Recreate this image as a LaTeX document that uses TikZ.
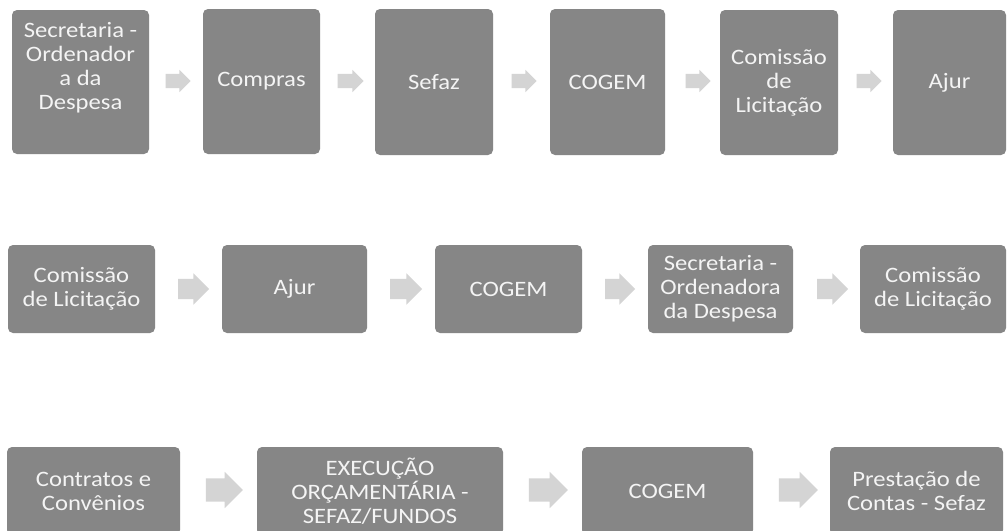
\documentclass[tikz,border=0pt]{standalone}
\usepackage{fontspec}
\setmainfont{Carlito}[FakeStretch=1.12]
\usetikzlibrary{shapes.arrows}
\definecolor{boxgray}{RGB}{134,134,134}
\definecolor{boxtext}{RGB}{244,244,244}
\definecolor{arrowgray}{RGB}{212,212,212}
\tikzset{
  procbox/.style={draw=none, fill=boxgray, rounded corners=5pt, text=boxtext,
    align=center, inner sep=0pt, font=\fontsize{22}{24}\selectfont},
  flowarrow/.style={shape=single arrow, draw=none, fill=arrowgray, inner sep=0pt,
    single arrow head indent=0pt, shape border rotate=0},
}
% #1 name, #2 x1, #3 y1, #4 x2, #5 y2, #6 text
\newcommand\procnode[6]{%
  \node[procbox, minimum width={#4-#2}, minimum height={#5-#3}] (#1)
    at ({(#2+#4)/2},{(#3+#5)/2}) {#6};}
% #1 name, #2 x1, #3 x2, #4 yc, #5 shaft height (pt), #6 head extend (pt)
\newcommand\arrownode[6]{%
  \node[flowarrow, minimum height={#3-#2}, text height=#5, text width=0pt,
    single arrow head extend=#6] (#1) at ({(#2+#3)/2},#4) {};}
\begin{document}
\begin{tikzpicture}[x=1pt,y=-1pt]
\clip (0,0) rectangle (1008,530);
\fill[white] (0,0) rectangle (1008,530);
% Row 1
\procnode{a1}{12}{10}{149}{154}{}
\node[procbox, fill=none] (a1t) at (80.5,68) {Secretaria -\\Ordenador\\a da\\Despesa};
\procnode{a2}{203}{9}{320}{154}{Compras}
\procnode{a3}{375}{9}{493}{155}{Sefaz}
\procnode{a4}{550}{9}{665}{155}{COGEM}
\procnode{a5}{720}{10}{838}{155}{Comissão\\de\\Licitação}
\procnode{a6}{893}{10}{1006}{155}{Ajur}
\arrownode{r1}{162}{187}{81}{14pt}{4pt}
\arrownode{r2}{334}{360}{81}{14pt}{4pt}
\arrownode{r3}{508}{533}{81}{14pt}{4pt}
\arrownode{r4}{682}{707}{81}{14pt}{4pt}
\arrownode{r5}{853}{878}{81}{14pt}{4pt}
% Row 2
\procnode{b1}{8}{245}{155}{333}{Comissão\\de Licitação}
\procnode{b2}{222}{245}{367}{333}{Ajur}
\procnode{b3}{435}{245}{582}{333}{COGEM}
\procnode{b4}{648}{245}{793}{333}{Secretaria -\\Ordenadora\\da Despesa}
\procnode{b5}{860}{245}{1006}{333}{Comissão\\de Licitação}
\arrownode{s1}{173}{204}{289}{20pt}{5.5pt}
\arrownode{s2}{385}{417}{289}{20pt}{5.5pt}
\arrownode{s3}{600}{630}{289}{20pt}{5.5pt}
\arrownode{s4}{812}{843}{289}{20pt}{5.5pt}
% Row 3
\procnode{c1}{7}{447}{180}{535}{Contratos e\\Convênios}
\procnode{c2}{257}{447}{503}{535}{EXECUÇÃO\\ORÇAMENTÁRIA -\\SEFAZ/FUNDOS}
\procnode{c3}{582}{447}{753}{535}{COGEM}
\procnode{c4}{830}{447}{1003}{535}{Prestação de\\Contas - Sefaz}
\arrownode{t1}{200}{237}{490}{23pt}{6.5pt}
\arrownode{t2}{523}{562}{490}{23pt}{6.5pt}
\arrownode{t3}{773}{812}{490}{23pt}{6.5pt}
\end{tikzpicture}
\end{document}
